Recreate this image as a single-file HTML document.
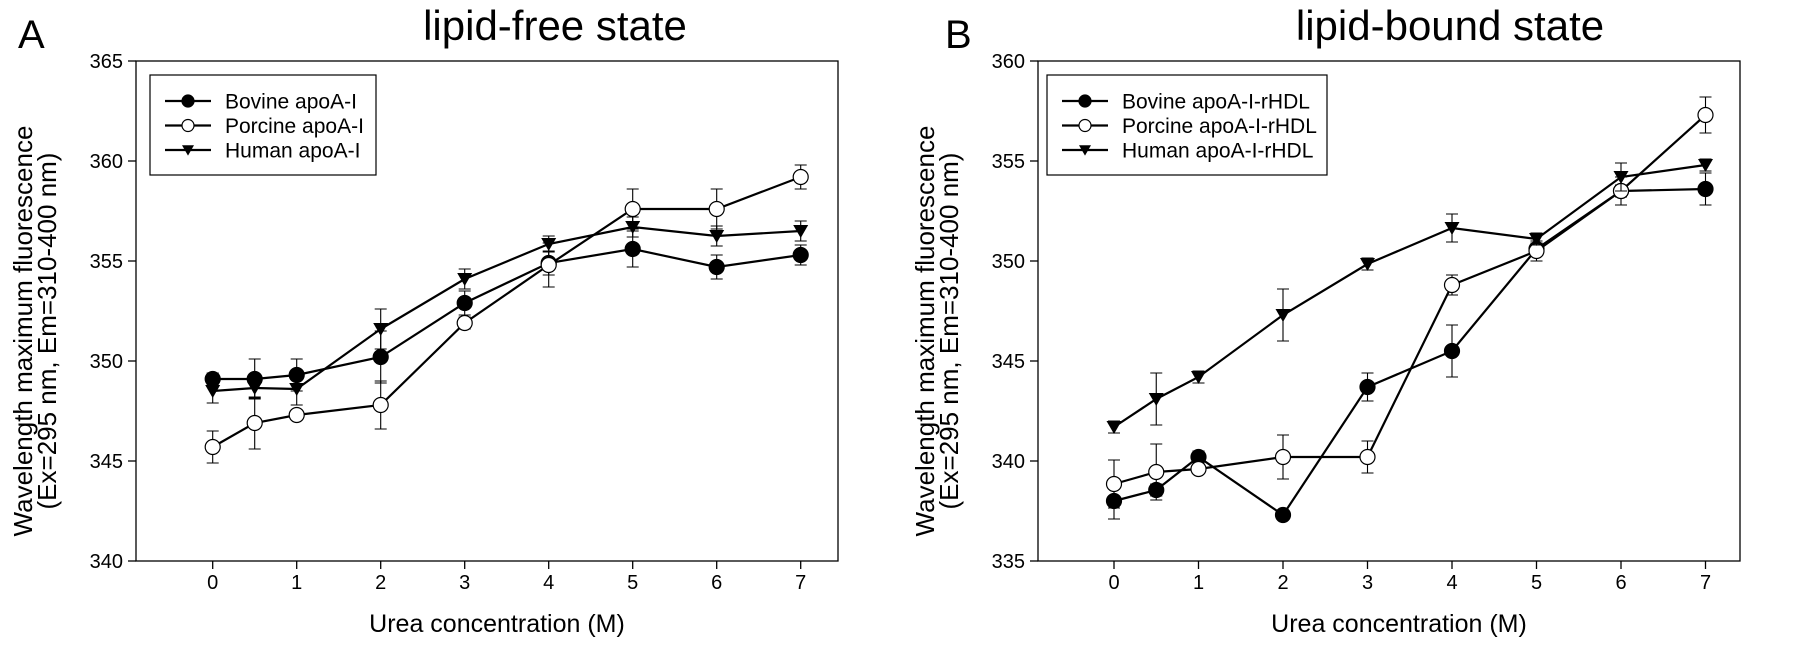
<!DOCTYPE html>
<html><head><meta charset="utf-8"><style>
body{margin:0;background:#fff;}
svg{display:block;font-family:"Liberation Sans",Arial,sans-serif;}
</style></head><body>
<svg id="fig" width="1795" height="648" xmlns="http://www.w3.org/2000/svg"></svg>
<script>
const xCats = [0, 0.5, 1, 2, 3, 4, 5, 6, 7];
const xTicks = [0, 1, 2, 3, 4, 5, 6, 7];
const aTicks = [340, 345, 350, 355, 360, 365];
const bTicks = [335, 340, 345, 350, 355, 360];
const aBovine = [349.1, 349.1, 349.3, 350.2, 352.9, 354.9, 355.6, 354.7, 355.3];
const aBovineErr = [0.3, 1.0, 0.8, 1.3, 0.6, 0.6, 0.9, 0.6, 0.5];
const aPorcine = [345.7, 346.9, 347.3, 347.8, 351.9, 354.8, 357.6, 357.6, 359.2];
const aPorcineErr = [0.8, 1.3, 0.2, 1.2, 0.3, 1.1, 1.0, 1.0, 0.6];
const aHuman = [348.5, 348.65, 348.6, 351.6, 354.1, 355.85, 356.7, 356.25, 356.5];
const aHumanErr = [0.6, 0.5, 0.8, 1.0, 0.5, 0.4, 0.5, 0.5, 0.5];
const bBovine = [338.0, 338.55, 340.2, 337.3, 343.7, 345.5, 350.6, 353.5, 353.6];
const bBovineErr = [0.9, 0.3, 0.3, 0.1, 0.7, 1.3, 0.3, 0.3, 0.8];
const bPorcine = [338.85, 339.45, 339.6, 340.2, 340.2, 348.8, 350.5, 353.5, 357.3];
const bPorcineErr = [1.2, 1.4, 0.2, 1.1, 0.8, 0.5, 0.5, 0.7, 0.9];
const bHuman = [341.7, 343.1, 344.2, 347.3, 349.85, 351.65, 351.1, 354.2, 354.8];
const bHumanErr = [0.3, 1.3, 0.3, 1.3, 0.3, 0.7, 0.3, 0.7, 0.3];

const NS = "http://www.w3.org/2000/svg";
const svg = document.getElementById("fig");
function mk(tag, attrs, parent, text){
  const e = document.createElementNS(NS, tag);
  for (const k in attrs) e.setAttribute(k, attrs[k]);
  if (text !== undefined) e.textContent = text;
  (parent || svg).appendChild(e);
  return e;
}
function marker(g, kind, cx, cy, r){
  r = r || 7.5;
  let m;
  if (kind === "tri") {
    m = mk("polygon", {points:`${cx-r},${cy-r*0.8} ${cx+r},${cy-r*0.8} ${cx},${cy+r*0.93}`, fill:"#000"}, g);
  } else {
    m = mk("circle", {cx:cx, cy:cy, r:r, fill: kind==="open" ? "#fff" : "#000", stroke:"#000", "stroke-width":1.2}, g);
  }
  return m;
}
function panel(opt){
  const L = opt.left, T = 61, B = 561, R = opt.left + 702;
  const x0 = opt.x0, dx = opt.dx;
  const sx = v => x0 + v*dx;
  const sy = v => B - (v - opt.ymin) * (B - T) / (opt.ymax - opt.ymin);
  const g = mk("g", {}, svg);
  
  
  const frame = mk("rect", {x:L, y:T, width:R-L, height:B-T, fill:"none", stroke:"#000", "stroke-width":1.3}, g);
  
  
  opt.yticks.forEach(t => {
    const y = sy(t);
    mk("line", {x1:L-8, x2:L, y1:y, y2:y, stroke:"#000", "stroke-width":1.3}, g);
    const tl = mk("text", {x:L-13, y:y+7, "text-anchor":"end", "font-size":20}, g, String(t));
    
    
  });
  xTicks.forEach(t => {
    const x = sx(t);
    mk("line", {x1:x, x2:x, y1:B, y2:B+8, stroke:"#000", "stroke-width":1.3}, g);
    const tl = mk("text", {x:x, y:B+28, "text-anchor":"middle", "font-size":20}, g, String(t));
    
    
  });
  const xt = mk("text", {x:(L+R)/2 + 10, y:632, "text-anchor":"middle", "font-size":25}, g, "Urea concentration (M)");
  
  
  const yt = mk("text", {transform:`translate(${L-104},331) rotate(-90)`, "text-anchor":"middle", "font-size":26}, g);
  
  
  mk("tspan", {x:0, dy:0}, yt, "Wavelength maximum fluorescence");
  mk("tspan", {x:0, dy:24}, yt, "(Ex=295 nm, Em=310-400 nm)");
  const title = mk("text", {x:opt.titleX, y:40, "text-anchor":"middle", "font-size":42}, g, opt.title);
  
  
  const lab = mk("text", {x:opt.labX, y:48, "font-size":40}, g, opt.letter);
  
  

  opt.series.forEach(s => {
    const sg = mk("g", {}, g);
    
    
    const pts = xCats.map((c,i) => `${sx(c)},${sy(s.vals[i])}`).join(" ");
    const line = mk("polyline", {points:pts, fill:"none", stroke:"#000", "stroke-width":2.2}, sg);
    
    
    xCats.forEach((c,i) => {
      const x = sx(c), yl = sy(s.vals[i] - s.err[i]), yh = sy(s.vals[i] + s.err[i]);
      const eb = mk("path", {d:`M${x},${yl}V${yh}M${x-6},${yl}H${x+6}M${x-6},${yh}H${x+6}`, stroke:"#000", "stroke-width":1.1, fill:"none"}, sg);
      
      
    });
    xCats.forEach((c,i) => {
      const m = marker(sg, s.kind, sx(c), sy(s.vals[i]));
      
      
    });
  });

  const lg = mk("g", {}, g);
  
  
  mk("rect", {x:opt.legX, y:75, width:opt.legW, height:100, fill:"#fff", stroke:"#000", "stroke-width":1.2}, lg);
  opt.series.forEach((s,i) => {
    const y = 101 + i*24.5;
    const eg = mk("g", {}, lg);
    
    
    mk("line", {x1:opt.legX+15, x2:opt.legX+61, y1:y, y2:y, stroke:"#000", "stroke-width":2.2}, eg);
    marker(eg, s.kind, opt.legX+38, y, 6);
    mk("text", {x:opt.legX+75, y:y+7.5, "font-size":21}, eg, s.label);
  });
}
panel({id:"lipid-free", left:136, x0:212.7, dx:84, ymin:340, ymax:365, yticks:aTicks,
  title:"lipid-free state", titleX:555, letter:"A", labX:18, legX:150, legW:226,
  series:[
    {name:"bovine", kind:"filled", vals:aBovine, err:aBovineErr, label:"Bovine apoA-I"},
    {name:"porcine", kind:"open", vals:aPorcine, err:aPorcineErr, label:"Porcine apoA-I"},
    {name:"human", kind:"tri", vals:aHuman, err:aHumanErr, label:"Human apoA-I"}
  ]});
panel({id:"lipid-bound", left:1038, x0:1114, dx:84.5, ymin:335, ymax:360, yticks:bTicks,
  title:"lipid-bound state", titleX:1450, letter:"B", labX:945, legX:1047, legW:280,
  series:[
    {name:"bovine", kind:"filled", vals:bBovine, err:bBovineErr, label:"Bovine apoA-I-rHDL"},
    {name:"porcine", kind:"open", vals:bPorcine, err:bPorcineErr, label:"Porcine apoA-I-rHDL"},
    {name:"human", kind:"tri", vals:bHuman, err:bHumanErr, label:"Human apoA-I-rHDL"}
  ]});
</script>
</body></html>
